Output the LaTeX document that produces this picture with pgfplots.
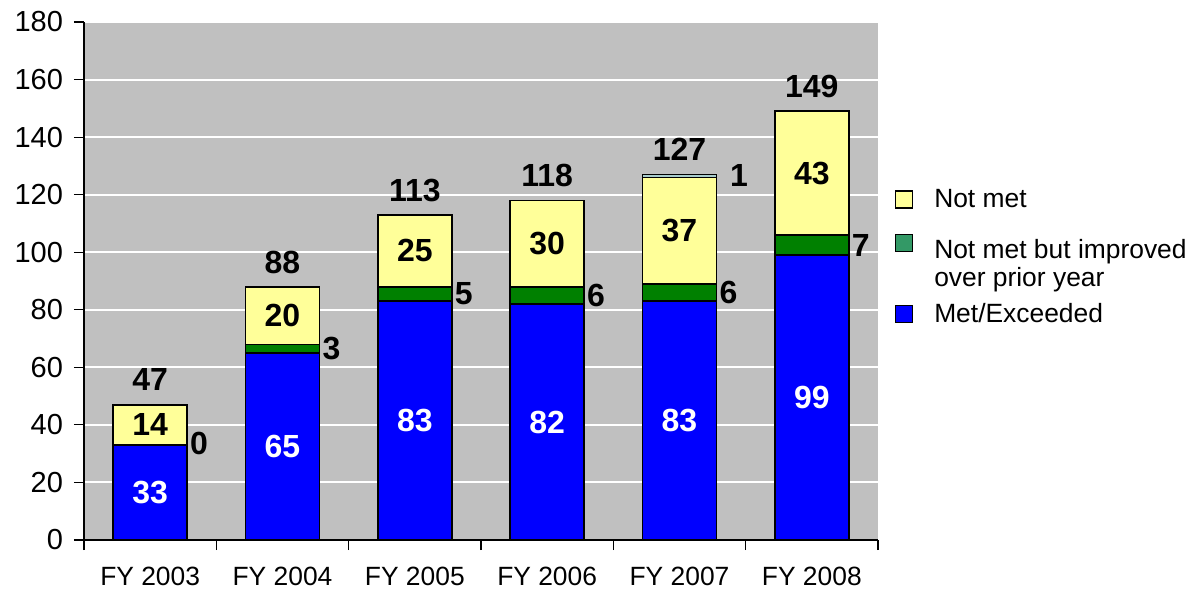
\documentclass[border=0pt]{standalone}
\usepackage{fontspec}
\setmainfont{Liberation Sans}
\usepackage{pgfplots}
\usepackage{pgfplotstable}
\pgfplotsset{compat=1.18}
\definecolor{plotgray}{HTML}{C0C0C0}
\definecolor{metblue}{HTML}{0000FF}
\definecolor{impgreen}{HTML}{008000}
\definecolor{legteal}{HTML}{339966}
\definecolor{notmet}{HTML}{FFFF99}
\definecolor{othercol}{HTML}{A8CCCC}
\pgfplotsset{sq legend/.style={legend image code/.code={\draw[##1] (0pt,-4.25pt) rectangle (8.5pt,4.25pt); \path (17pt,0pt);}},
  sq legend up/.style={legend image code/.code={\draw[##1] (0pt,2.75pt) rectangle (8.5pt,11.25pt); \path (17pt,-11.25pt);}}}
\newcommand\xfont{\fontsize{13.2}{15}\selectfont}
\newcommand\yfont{\fontsize{14.5}{16}\selectfont}
\newcommand\lfont{\fontsize{13.2}{15}\selectfont}
\newcommand\bfont{\fontsize{16}{18}\selectfont\bfseries}

\pgfplotstableread{
x met imp notmet other
0 33 0 14 0
1 65 3 20 0
2 83 5 25 0
3 82 6 30 0
4 83 6 37 1
5 99 7 43 0
}\datatable

\pgfplotstableread{
x y lab
0 16.5 33
1 32.5 65
2 41.5 83
3 41.0 82
4 41.5 83
5 49.5 99
}\bluelab

\pgfplotstableread{
x y lab
0 40.0 14
1 78.0 20
2 100.5 25
3 103.0 30
4 107.5 37
5 127.5 43
}\yellowlab

\pgfplotstableread{
x y lab
0.37 33.5 0
1.37 66.5 3
2.37 85.5 5
3.37 85.0 6
4.37 86.0 6
5.37 102.5 7
4.45 126.8 1
}\sidelab

\pgfplotstableread{
x y lab
0 55.6 47
1 96.6 88
2 121.6 113
3 126.6 118
4 135.6 127
5 157.6 149
}\totallab

\begin{document}
\begin{tikzpicture}[x=1pt,y=1pt]
\useasboundingbox (-42,-24.5) rectangle (555.5,270);
\begin{axis}[
  at={(0,0)}, anchor=south west,
  scale only axis, width=397pt, height=259pt,
  xmin=-0.5, xmax=5.5, ymin=0, ymax=180,
  ybar stacked, bar width=37pt,
  axis background/.style={fill=plotgray},
  axis x line*=bottom, axis y line*=left,
  ytick={0,20,...,180},
  ymajorgrids, grid style={white, line width=1pt},
  xtick={-0.5,0.5,1.5,2.5,3.5,4.5,5.5},
  x tick label as interval,
  xticklabels={FY 2003,FY 2004,FY 2005,FY 2006,FY 2007,FY 2008},
  tick align=outside, major tick length=5pt,
  tick style={black, line width=0.6pt},
  axis line style={black, line width=0.6pt},
  xticklabel style={font=\xfont, yshift=-5pt},
  yticklabel style={font=\yfont, xshift=-2pt},
  /pgf/number format/assume math mode=true,
  legend style={at={(1.021,0.546)}, anchor=west, draw=none, fill=none,
    font=\lfont, row sep=9.75pt, inner xsep=0pt, inner ysep=0pt},
  legend cell align=left,
]
\addplot[forget plot, fill=metblue, draw=black, line width=0.8pt] table[x=x,y=met]{\datatable};
\addplot[forget plot, fill=impgreen, draw=black, line width=0.8pt] table[x=x,y=imp]{\datatable};
\addplot[forget plot, fill=notmet, draw=black, line width=0.8pt] table[x=x,y=notmet]{\datatable};
\addplot[forget plot, fill=othercol, draw=black, line width=0.8pt] table[x=x,y=other]{\datatable};
\addlegendimage{sq legend, fill=notmet, draw=black, line width=0.6pt}
\addlegendentry{Not met}
\addlegendimage{sq legend up, fill=legteal, draw=black, line width=0.6pt}
\addlegendentry{\begin{tabular}{@{}l@{}}Not met but improved\\[-1pt]over prior year\end{tabular}}
\addlegendimage{sq legend, fill=metblue, draw=black, line width=0.6pt}
\addlegendentry{Met/Exceeded}
\end{axis}
\begin{axis}[
  at={(0,0)}, anchor=south west,
  scale only axis, width=397pt, height=259pt,
  xmin=-0.5, xmax=5.5, ymin=0, ymax=180,
  hide axis, clip=false,
  nodes near coords, point meta=explicit symbolic,
  every node near coord/.append style={anchor=center, font=\bfont, inner sep=0pt},
]
\addplot[draw=none, mark=none, every node near coord/.append style={text=white}] table[x=x,y=y,meta=lab]{\bluelab};
\addplot[draw=none, mark=none, every node near coord/.append style={text=black}] table[x=x,y=y,meta=lab]{\yellowlab};
\addplot[draw=none, mark=none, every node near coord/.append style={text=black}] table[x=x,y=y,meta=lab]{\sidelab};
\addplot[draw=none, mark=none, every node near coord/.append style={text=black}] table[x=x,y=y,meta=lab]{\totallab};
\end{axis}
\end{tikzpicture}
\end{document}
